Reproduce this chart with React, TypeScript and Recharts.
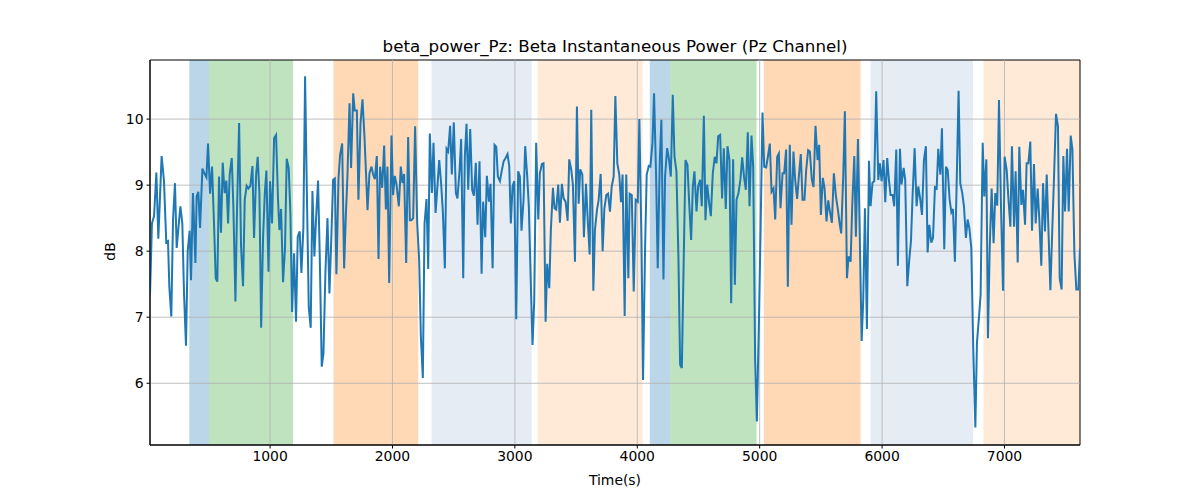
import React from 'react';
import { LineChart, Line, XAxis, YAxis, ReferenceArea, ReferenceLine } from 'recharts';

// [time (s), beta power (dB)]
const betaPowerSamples: Array<[number, number]> = [
  [19, 7.34], [35, 8.42], [52, 8.53], [71, 9.19], [87, 8.19], [114, 9.44], [133, 9.07], [152, 8.13], [166, 8.15], [177, 7.46],
  [193, 7.01], [207, 8.47], [223, 9.03], [237, 8.05], [267, 8.68], [283, 8.42], [297, 7.36], [313, 6.57], [327, 8.0], [343, 8.31],
  [354, 7.56], [370, 8.88], [390, 7.82], [400, 8.83], [414, 8.9], [428, 8.35], [447, 9.25], [463, 9.18], [480, 9.12], [493, 9.63],
  [510, 8.87], [526, 9.28], [540, 8.53], [556, 7.59], [569, 7.54], [583, 9.13], [599, 8.28], [613, 9.34], [629, 8.88], [643, 9.07],
  [657, 8.42], [670, 9.16], [687, 9.41], [700, 8.68], [717, 7.24], [730, 8.63], [747, 9.94], [763, 8.07], [779, 7.47], [793, 8.78],
  [809, 8.99], [823, 8.95], [839, 8.99], [856, 9.29], [869, 8.2], [886, 9.16], [899, 9.43], [913, 8.88], [927, 6.84], [943, 8.22],
  [957, 8.88], [970, 9.22], [987, 7.69],
  [1000, 9.06], [1016, 8.42], [1033, 9.71], [1049, 9.76], [1065, 8.78], [1076, 8.32], [1090, 8.64], [1106, 7.53], [1122, 8.05], [1136, 9.4],
  [1152, 9.26], [1166, 8.58], [1180, 7.08], [1196, 7.97], [1212, 6.93], [1226, 8.22], [1242, 8.3], [1256, 7.67], [1272, 8.35], [1286, 10.65],
  [1302, 8.73], [1316, 7.16], [1332, 6.84], [1346, 8.91], [1362, 7.92], [1376, 8.5], [1392, 9.07], [1406, 7.92], [1422, 6.25], [1436, 6.45],
  [1452, 7.67], [1469, 8.5], [1485, 7.36], [1499, 8.12], [1515, 9.08], [1529, 9.1], [1542, 7.65], [1559, 9.1], [1572, 9.46], [1589, 9.63],
  [1605, 7.74], [1619, 8.55], [1632, 9.13], [1649, 10.24], [1662, 9.26], [1679, 10.39], [1692, 10.13], [1709, 10.13], [1722, 8.78], [1739, 9.94],
  [1755, 10.3], [1771, 9.74], [1785, 9.13], [1796, 8.62], [1812, 9.18], [1829, 9.28], [1842, 9.16], [1856, 9.09], [1872, 9.44], [1886, 7.88],
  [1899, 9.28], [1916, 8.96], [1932, 9.6], [1946, 8.63], [1959, 9.28], [1973, 7.52],
  [1992, 9.75], [2005, 8.85], [2019, 9.14], [2033, 9.01], [2052, 8.68], [2068, 9.28], [2082, 9.03], [2095, 9.17], [2112, 7.82], [2128, 9.73],
  [2142, 8.47], [2155, 8.47], [2169, 8.5], [2185, 9.89], [2202, 8.42], [2218, 7.87], [2232, 6.71], [2248, 6.08], [2262, 8.42], [2278, 8.79],
  [2292, 7.73], [2305, 9.78], [2322, 8.88], [2335, 9.64], [2352, 8.58], [2365, 8.92], [2382, 9.38], [2398, 9.01], [2412, 8.58], [2428, 7.74],
  [2442, 9.55], [2455, 9.51], [2471, 9.9], [2485, 9.16], [2501, 9.95], [2518, 8.88], [2531, 8.8], [2548, 9.23], [2561, 9.7], [2578, 7.59],
  [2591, 9.43], [2605, 9.93], [2619, 8.93], [2635, 9.85], [2651, 8.93], [2665, 8.84], [2681, 9.34], [2695, 8.4], [2711, 9.36], [2728, 7.66],
  [2741, 8.75], [2758, 8.21], [2771, 9.14], [2788, 8.75], [2801, 9.02], [2818, 7.74], [2834, 9.61], [2848, 9.58], [2861, 9.13], [2878, 9.06],
  [2894, 9.23], [2908, 9.36], [2924, 9.41], [2940, 9.47],
  [2954, 9.29], [2967, 8.42], [2981, 8.98], [2995, 9.06], [3011, 6.97], [3027, 9.21], [3041, 9.13], [3054, 8.31], [3071, 8.78], [3084, 9.59],
  [3101, 9.13], [3114, 8.68], [3131, 7.46], [3144, 6.58], [3158, 7.24], [3174, 9.64], [3191, 8.48], [3204, 9.18], [3221, 9.32], [3234, 9.33],
  [3251, 6.93], [3264, 7.81], [3281, 7.44], [3294, 8.32], [3311, 8.96], [3324, 8.65], [3338, 8.63], [3354, 9.01], [3368, 8.43], [3384, 9.02],
  [3398, 8.8], [3414, 8.75], [3431, 8.46], [3444, 9.39], [3461, 9.23], [3474, 9.01], [3491, 7.84], [3507, 10.19], [3521, 8.72], [3534, 9.24],
  [3551, 9.16], [3564, 8.21], [3581, 9.02], [3597, 8.41], [3611, 7.95], [3624, 10.14], [3641, 7.4], [3654, 8.32], [3671, 8.63], [3684, 8.77],
  [3701, 9.17], [3717, 8.0], [3731, 8.64], [3747, 8.85], [3761, 8.87], [3777, 8.6], [3791, 8.98], [3807, 9.13], [3821, 10.35], [3837, 9.33],
  [3853, 9.16], [3867, 8.74], [3880, 9.16], [3897, 7.02], [3910, 9.16], [3927, 7.59],
  [3938, 8.87], [3955, 8.85], [3971, 7.39], [3987, 8.78], [4004, 8.75], [4017, 10.0], [4034, 8.17], [4047, 6.05], [4064, 8.07], [4077, 9.16],
  [4094, 9.29], [4107, 9.28], [4124, 9.64], [4137, 10.39], [4154, 9.13], [4167, 7.74], [4184, 9.38], [4197, 9.99], [4214, 7.57], [4227, 9.13],
  [4244, 9.56], [4260, 9.38], [4274, 9.13], [4290, 10.37], [4304, 9.43], [4320, 9.21], [4336, 7.92], [4350, 6.28], [4364, 6.23], [4377, 7.62],
  [4394, 9.38], [4410, 9.31], [4424, 8.73], [4440, 8.17], [4454, 8.98], [4467, 9.21], [4484, 8.6], [4497, 8.98], [4514, 9.08], [4527, 8.68],
  [4544, 10.05], [4557, 8.47], [4571, 9.01], [4587, 8.73], [4601, 8.53], [4617, 9.18], [4633, 9.43], [4647, 9.33], [4661, 9.74], [4677, 9.76],
  [4693, 8.8], [4707, 9.56], [4723, 8.64], [4737, 9.59], [4753, 9.38], [4767, 7.21], [4783, 9.39], [4797, 7.49], [4811, 8.78], [4827, 8.88],
  [4843, 9.09], [4857, 9.42], [4873, 9.11], [4887, 8.93], [4903, 9.8], [4917, 8.68],
  [4933, 9.75], [4947, 9.28], [4963, 6.35], [4977, 5.42], [4993, 6.86], [5007, 8.27], [5023, 10.1], [5037, 9.28], [5053, 9.27], [5067, 9.43],
  [5083, 9.63], [5097, 8.9], [5113, 8.95], [5127, 8.48], [5143, 9.43], [5157, 9.48], [5170, 8.65], [5187, 9.18], [5200, 9.18], [5216, 9.54],
  [5230, 7.46], [5246, 9.61], [5260, 8.4], [5276, 9.51], [5290, 9.08], [5306, 8.79], [5320, 9.13], [5336, 9.47], [5350, 8.78], [5366, 8.78],
  [5380, 9.23], [5396, 9.53], [5410, 9.51], [5426, 9.08], [5440, 8.97], [5456, 9.9], [5473, 9.38], [5486, 9.61], [5500, 8.55], [5516, 9.11],
  [5530, 8.95], [5546, 8.45], [5560, 8.77], [5574, 8.6], [5590, 8.43], [5606, 9.18], [5623, 8.83], [5639, 8.63], [5653, 8.42], [5666, 8.27],
  [5683, 9.16], [5696, 10.12], [5713, 7.59], [5726, 7.92], [5743, 7.84], [5756, 8.68], [5773, 9.44], [5786, 8.22], [5803, 9.7], [5816, 8.42],
  [5833, 6.64], [5846, 7.26], [5860, 8.65], [5876, 6.82], [5893, 9.37],
  [5906, 8.68], [5922, 9.04], [5936, 9.06], [5952, 10.42], [5969, 9.08], [5982, 9.33], [5996, 9.06], [6012, 9.38], [6026, 8.74], [6042, 9.41],
  [6056, 9.08], [6069, 8.85], [6086, 8.85], [6099, 8.68], [6116, 9.54], [6129, 7.78], [6146, 9.55], [6159, 9.01], [6176, 9.26], [6189, 9.08],
  [6206, 7.47], [6222, 7.87], [6236, 8.15], [6249, 8.83], [6266, 9.56], [6282, 8.68], [6296, 8.98], [6312, 8.78], [6326, 8.55], [6342, 9.38],
  [6358, 9.59], [6372, 7.98], [6386, 8.4], [6402, 8.13], [6416, 8.2], [6432, 8.97], [6446, 8.95], [6459, 9.55], [6476, 9.16], [6489, 9.86],
  [6508, 8.03], [6522, 9.28], [6536, 9.23], [6552, 8.78], [6566, 8.59], [6579, 8.64], [6595, 7.84], [6609, 8.99], [6625, 10.43], [6639, 9.03],
  [6655, 8.88], [6669, 8.68], [6685, 8.2], [6699, 8.48], [6713, 8.35], [6729, 8.05], [6745, 6.51], [6762, 5.33], [6775, 6.61], [6792, 7.01],
  [6805, 7.34], [6822, 9.64], [6835, 8.83], [6852, 9.39], [6865, 6.68],
  [6879, 8.02], [6895, 8.95], [6911, 8.12], [6925, 8.88], [6941, 8.69], [6955, 10.29], [6971, 8.73], [6988, 7.4], [7001, 9.43], [7018, 9.23],
  [7031, 8.83], [7048, 8.37], [7061, 9.59], [7078, 8.37], [7091, 9.21], [7108, 7.83], [7121, 9.58], [7138, 8.7], [7151, 8.93], [7168, 8.4],
  [7181, 9.33], [7195, 9.33], [7211, 9.66], [7225, 8.31], [7241, 9.32], [7255, 8.42], [7271, 8.95], [7285, 8.47], [7301, 7.78], [7315, 9.03],
  [7331, 8.3], [7345, 9.16], [7361, 8.22], [7375, 7.41], [7391, 8.35], [7405, 9.13], [7421, 10.08], [7437, 9.89], [7451, 7.59], [7467, 7.42],
  [7481, 9.44], [7495, 8.6], [7511, 9.55], [7525, 8.6], [7541, 9.75], [7555, 9.54], [7571, 7.97], [7587, 7.42], [7604, 7.42], [7617, 8.04],
];

// Shaded segments: [start, end, kind]
const segments: Array<[number, number, string]> = [
  [340, 501, 'blue'],
  [501, 1188, 'green'],
  [1518, 2210, 'orange'],
  [2319, 3137, 'lightblue'],
  [3186, 4044, 'lightorange'],
  [4102, 4268, 'blue'],
  [4268, 4974, 'green'],
  [5034, 5824, 'orange'],
  [5906, 6743, 'lightblue'],
  [6828, 7617, 'lightorange'],
];

const xTicks = [1000, 2000, 3000, 4000, 5000, 6000, 7000];
const yTicks = [6, 7, 8, 9, 10];
const xDomain: [number, number] = [19, 7617];
const yDomain: [number, number] = [5.065, 10.895];

const titleText = 'beta_power_Pz: Beta Instantaneous Power (Pz Channel)';
const xLabelText = 'Time(s)';
const yLabelText = 'dB';

const segmentStyle: Record<string, { fill: string; opacity: number }> = {
  blue: { fill: '#1f77b4', opacity: 0.3 },
  green: { fill: '#2ca02c', opacity: 0.3 },
  orange: { fill: '#ff7f0e', opacity: 0.3 },
  lightblue: { fill: '#b0c4de', opacity: 0.32 },
  lightorange: { fill: '#ff7f0e', opacity: 0.16 },
};

const FONT = '"DejaVu Sans", sans-serif';

export default function App() {
  const data = betaPowerSamples.map(([t, v]) => ({ t, v }));
  const tickStyle = { fill: '#000', fontSize: 13.9, fontFamily: FONT };
  return (
    <div style={{ position: 'absolute', left: 0, top: 0, width: 1200, height: 500, background: '#fff', fontFamily: FONT }}>
      <div style={{ position: 'absolute', left: 150, width: 930, top: 36, textAlign: 'center', fontSize: 16.7, lineHeight: '20px', color: '#000' }}>
        {titleText}
      </div>
      <div style={{ position: 'absolute', left: 150, width: 930, top: 472, textAlign: 'center', fontSize: 13.9, lineHeight: '17px', color: '#000' }}>
        {xLabelText}
      </div>
      <div style={{ position: 'absolute', left: 110 - 50, top: 252 - 9, width: 100, textAlign: 'center', fontSize: 13.9, lineHeight: '17px', color: '#000', transform: 'rotate(-90deg)' }}>
        {yLabelText}
      </div>
      <LineChart width={1200} height={500} data={data} margin={{ top: 60, right: 120, bottom: 25, left: 100 }} style={{ position: 'absolute', left: 0, top: 0 }}>
        <XAxis
          dataKey="t"
          type="number"
          domain={xDomain}
          ticks={xTicks}
          allowDataOverflow
          height={30}
          tickSize={3.5}
          tickMargin={3}
          tick={tickStyle}
          axisLine={{ stroke: '#000', strokeWidth: 1 }}
          tickLine={{ stroke: '#000', strokeWidth: 1 }}
        />
        <YAxis
          type="number"
          domain={yDomain}
          ticks={yTicks}
          allowDataOverflow
          width={50}
          tickSize={3.5}
          tickMargin={3}
          tick={tickStyle}
          axisLine={{ stroke: '#000', strokeWidth: 1 }}
          tickLine={{ stroke: '#000', strokeWidth: 1 }}
        />
        {segments.map(([s, e, kind], i) => (
          <ReferenceArea key={'seg' + i} x1={s} x2={e} y1={yDomain[0]} y2={yDomain[1]} fill={segmentStyle[kind].fill} fillOpacity={segmentStyle[kind].opacity} stroke="none" ifOverflow="hidden" />
        ))}
        {xTicks.map((x) => (
          <ReferenceLine key={'gx' + x} x={x} stroke="#b0b0b0" strokeWidth={0.8} />
        ))}
        {yTicks.map((y) => (
          <ReferenceLine key={'gy' + y} y={y} stroke="#b0b0b0" strokeWidth={0.8} />
        ))}
        <Line type="linear" dataKey="v" stroke="#1f77b4" strokeWidth={2} dot={false} isAnimationActive={false} />
        <ReferenceArea x1={xDomain[0]} x2={xDomain[1]} y1={yDomain[0]} y2={yDomain[1]} fill="none" fillOpacity={0} stroke="#000" strokeWidth={1} ifOverflow="visible" />
      </LineChart>
    </div>
  );
}
